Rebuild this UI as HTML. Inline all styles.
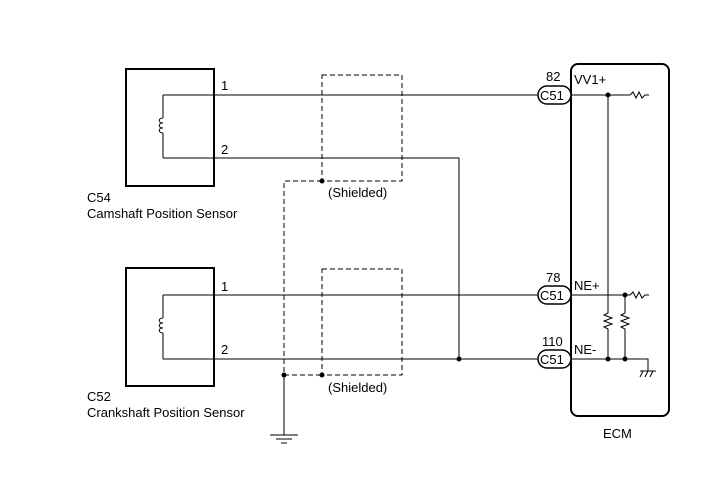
<!DOCTYPE html>
<html><head><style>body{margin:0;background:#fff}svg{display:block}text{font-family:"Liberation Sans",Arial,sans-serif;font-size:13px;fill:#000}</style></head><body>
<svg width="713" height="481" viewBox="0 0 713 481">
<g fill="none" stroke="#000" stroke-width="1">
<rect x="126" y="69" width="88" height="117" stroke-width="2"/>
<rect x="126" y="268" width="88" height="118" stroke-width="2"/>
<rect x="571" y="64" width="98" height="352" rx="7" stroke-width="2"/>
<path d="M163 95V118M163 133V158M163 95H540M163 158H459V359M163 295V318M163 333V359M163 295H540M163 359H540"/>
<path d="M163 118c-5 0-5 5 0 5c-5 0-5 5 0 5c-5 0-5 5 0 5"/>
<path d="M163 318c-5 0-5 5 0 5c-5 0-5 5 0 5c-5 0-5 5 0 5"/>
<g stroke-dasharray="5,3">
<rect x="322" y="75" width="80" height="106"/>
<rect x="322" y="269" width="80" height="106"/>
<path d="M322 181H284V375H322"/>
</g>
<path d="M284 375V435M270 435H298M276 439H292M281 443H287"/>
<path d="M570 95H630M630 95l3-3 3 6 3-6 3 6 3-3h4"/>
<path d="M570 295H630M630 295l3-3 3 6 3-6 3 6 3-3h4"/>
<path d="M570 359H648V371M640 371H656M643 371l-3 6M648 371l-3 6M653 371l-3 6"/>
<path d="M608 95V313l-4 2 8 3-8 3 8 3-8 3 4 2V359"/>
<path d="M625 295V313l-4 2 8 3-8 3 8 3-8 3 4 2V359"/>
</g>
<g fill="#000">
<circle cx="608" cy="95" r="2.5"/><circle cx="625" cy="295" r="2.5"/>
<circle cx="608" cy="359" r="2.5"/><circle cx="625" cy="359" r="2.5"/>
<circle cx="459" cy="359" r="2.5"/><circle cx="322" cy="181" r="2.5"/>
<circle cx="284" cy="375" r="2.5"/><circle cx="322" cy="375" r="2.5"/>
</g>
<g fill="#fff" stroke="#000" stroke-width="1.5">
<rect x="538" y="86" width="33" height="18" rx="9"/>
<rect x="538" y="286" width="33" height="18" rx="9"/>
<rect x="538" y="350" width="33" height="18" rx="9"/>
</g>
<g style="font-size:14px"><text x="540" y="100">C51</text><text x="540" y="300">C51</text><text x="540" y="364">C51</text></g>
<text x="546" y="81">82</text><text x="546" y="282">78</text><text x="542" y="346">110</text>
<text x="574" y="84">VV1+</text><text x="574" y="290">NE+</text><text x="574" y="354">NE-</text>
<text x="603" y="438">ECM</text>
<text x="221" y="90">1</text><text x="221" y="154">2</text>
<text x="221" y="291">1</text><text x="221" y="354">2</text>
<text x="328" y="197">(Shielded)</text><text x="328" y="392">(Shielded)</text>
<text x="87" y="202">C54</text><text x="87" y="218">Camshaft Position Sensor</text>
<text x="87" y="401">C52</text><text x="87" y="417">Crankshaft Position Sensor</text>
</svg></body></html>
